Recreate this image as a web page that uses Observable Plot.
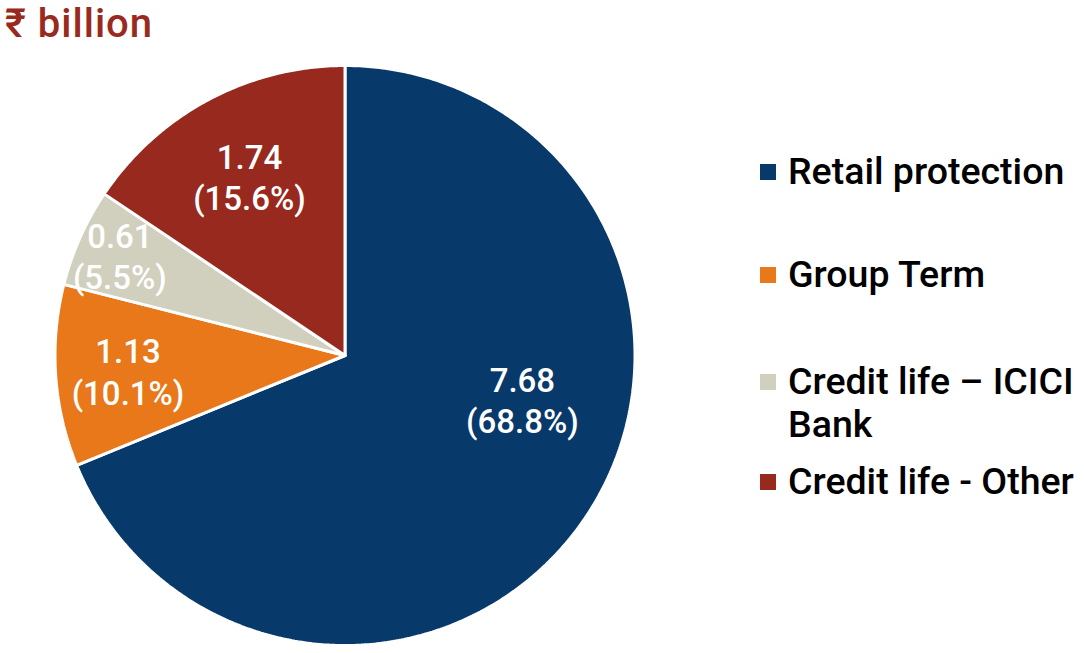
<!DOCTYPE html>
<html>
<head>
<meta charset="utf-8">
<script src="https://cdn.jsdelivr.net/npm/d3@7"></script>
<script src="https://cdn.jsdelivr.net/npm/@observablehq/plot@0.6"></script>
<style>
  html, body { margin: 0; padding: 0; background: #fff; }
  #wrap { position: relative; width: 1084px; height: 653px; overflow: hidden; font-family: Roboto, "Liberation Sans", Arial, sans-serif; }
  #title { position: absolute; left: 5px; top: 4px; font-size: 40px; line-height: 40px; font-weight: 500; letter-spacing: 1px; color: #982a20; font-family: Roboto, "Noto Sans", "DejaVu Sans", sans-serif; white-space: nowrap; }
  #chart { position: absolute; left: 0; top: 0; }
  .leg { position: absolute; left: 760px; font-size: 37.5px; font-weight: 500; color: #000; line-height: 43px; white-space: nowrap; }
  .leg .sw { position: absolute; left: 0; top: 14px; width: 16px; height: 16px; }
  .leg .tx { margin-left: 28px; display: block; }
</style>
</head>
<body>
<div id="wrap">
  <div id="chart"></div>
  <div id="title">₹ billion</div>
  <div id="legend"></div>
</div>
<script>
const categories = ["Retail protection", "Group Term", "Credit life – ICICI Bank", "Credit life - Other"];
const values = [7.68, 1.13, 0.61, 1.74];
const percentLabels = ["68.8%", "10.1%", "5.5%", "15.6%"];
const colors = ["#08396b", "#e8781a", "#d1cfbe", "#98291f"];

const pie = d3.pie().sort(null).value(d => d)(values);

// label placement: fraction of radius and angle tweak (degrees) per slice
const labelPlace = [{f: 0.63, da: -20}, {f: 0.75, da: 0}, {f: 0.85, da: 0}, {f: 0.7, da: 0}];

const marks = [];
pie.forEach((s, i) => {
  const pts = [{x: 0, y: 0}];
  const n = Math.max(8, Math.ceil((s.endAngle - s.startAngle) / 0.01));
  for (let k = 0; k <= n; k++) {
    const a = s.startAngle + (s.endAngle - s.startAngle) * k / n;
    pts.push({x: Math.sin(a), y: Math.cos(a)});
  }
  pts.push({x: 0, y: 0});
  marks.push(Plot.line(pts, {x: "x", y: "y", fill: colors[i], stroke: "white", strokeWidth: 3, strokeLinejoin: "miter", curve: "linear"}));
});

const labels = pie.map((s, i) => {
  const a = (s.startAngle + s.endAngle) / 2 + labelPlace[i].da * Math.PI / 180;
  const f = labelPlace[i].f;
  return {x: f * Math.sin(a), y: f * Math.cos(a), text: `${values[i].toFixed(2)}\n(${percentLabels[i]})`};
});
marks.push(Plot.text(labels, {x: "x", y: "y", text: "text", fill: "white", fontSize: 33, fontWeight: 500, lineHeight: 1.25, fontFamily: "Roboto, Liberation Sans, Arial, sans-serif"}));

const chart = Plot.plot({
  width: 1084,
  height: 653,
  margin: 0,
  x: {type: "linear", domain: [-1, 1], range: [54.5, 634.5], axis: null},
  y: {type: "linear", domain: [-1, 1], range: [645, 65], axis: null},
  style: {background: "white"},
  marks
});
document.getElementById("chart").appendChild(chart);

// legend
const legTops = [150, 253, 360, 460];
const leg = document.getElementById("legend");
categories.forEach((c, i) => {
  const d = document.createElement("div");
  d.className = "leg";
  d.style.top = legTops[i] + "px";
  const sw = document.createElement("span");
  sw.className = "sw";
  sw.style.background = colors[i];
  const tx = document.createElement("span");
  tx.className = "tx";
  tx.innerHTML = c === "Credit life – ICICI Bank" ? "Credit life – ICICI<br>Bank" : c;
  d.appendChild(sw); d.appendChild(tx);
  leg.appendChild(d);
});
</script>
</body>
</html>
